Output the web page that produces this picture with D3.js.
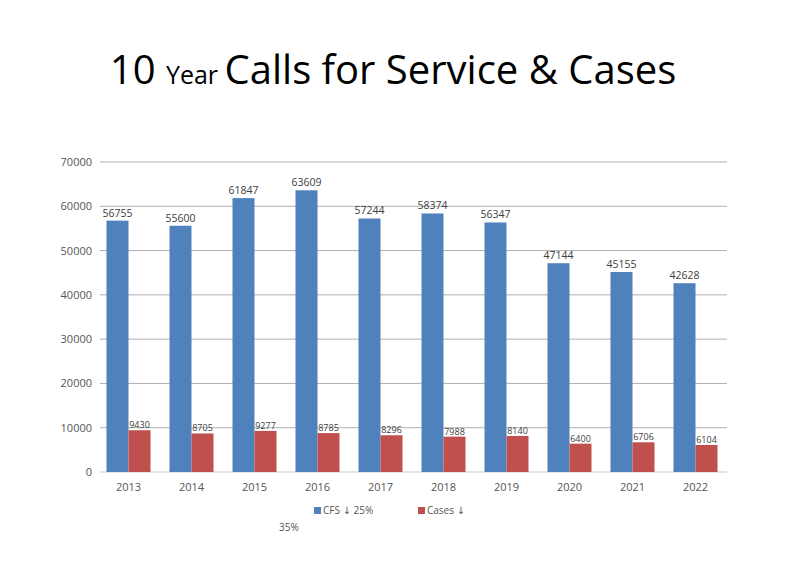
<!DOCTYPE html>
<html><head><meta charset="utf-8">
<script src="https://cdn.jsdelivr.net/npm/d3@7"></script>
<style>body{margin:0;background:#fff;font-family:"Open Sans","DejaVu Sans",sans-serif}</style>
</head><body><svg id="c" width="787" height="585"></svg>
<script>
const years=["2013","2014","2015","2016","2017","2018","2019","2020","2021","2022"];
const cfs=[56755,55600,61847,63609,57244,58374,56347,47144,45155,42628];
const cases=[9430,8705,9277,8785,8296,7988,8140,6400,6706,6104];
const yTicks=[0,10000,20000,30000,40000,50000,60000,70000];
const svg=d3.select("#c");
const x=d3.scaleBand().domain(years).range([97,727]);
const y=d3.scaleLinear().domain([0,70000]).range([472,162]);
const t=svg.append("text").attr("x",393).attr("y",84).attr("text-anchor","middle").attr("font-family","Open Sans, sans-serif").attr("fill","#000");
t.append("tspan").attr("font-size",40).text("10 ");
t.append("tspan").attr("font-size",25).text("Year ");
t.append("tspan").attr("font-size",40).text("Calls for Service & Cases");
svg.selectAll(".g").data(yTicks).join("line").attr("x1",100).attr("x2",727).attr("y1",d=>y(d)).attr("y2",d=>y(d)).attr("stroke",d=>d===0?"#c8c8c8":"#b0b0b0").attr("stroke-width",1);
svg.selectAll(".yl").data(yTicks).join("text").attr("x",92).attr("y",d=>y(d)+4).attr("text-anchor","end").attr("font-size",11).attr("fill","#555").text(d=>d);
const bw=22;
svg.selectAll(".b").data(years).join("rect").attr("x",d=>x(d)+x.bandwidth()/2-bw).attr("width",bw).attr("y",(d,i)=>y(cfs[i])).attr("height",(d,i)=>472-y(cfs[i])).attr("fill","#4f81bd");
svg.selectAll(".r").data(years).join("rect").attr("x",d=>x(d)+x.bandwidth()/2).attr("width",bw).attr("y",(d,i)=>y(cases[i])).attr("height",(d,i)=>472-y(cases[i])).attr("fill","#c0504d");
svg.selectAll(".bl").data(years).join("text").attr("x",d=>x(d)+x.bandwidth()/2-bw/2).attr("y",(d,i)=>y(cfs[i])-4).attr("text-anchor","middle").attr("font-size",10.5).attr("fill","#404040").text((d,i)=>cfs[i]);
svg.selectAll(".rl").data(years).join("text").attr("x",d=>x(d)+x.bandwidth()/2+bw/2).attr("y",(d,i)=>y(cases[i])-2).attr("text-anchor","middle").attr("font-size",9).attr("fill","#404040").text((d,i)=>cases[i]);
svg.selectAll(".xl").data(years).join("text").attr("x",d=>x(d)+x.bandwidth()/2).attr("y",491).attr("text-anchor","middle").attr("font-size",11).attr("fill","#555").text(d=>d);
svg.append("rect").attr("x",314).attr("y",507).attr("width",7).attr("height",7).attr("fill","#4f81bd");
svg.append("text").attr("x",323).attr("y",514).attr("font-size",10).attr("fill","#555").text("CFS ↓ 25%");
svg.append("rect").attr("x",418).attr("y",507).attr("width",7).attr("height",7).attr("fill","#c0504d");
svg.append("text").attr("x",427).attr("y",514).attr("font-size",10).attr("fill","#555").text("Cases ↓");
svg.append("text").attr("x",279).attr("y",531).attr("font-size",10).attr("fill","#555").text("35%");
</script></body></html>
